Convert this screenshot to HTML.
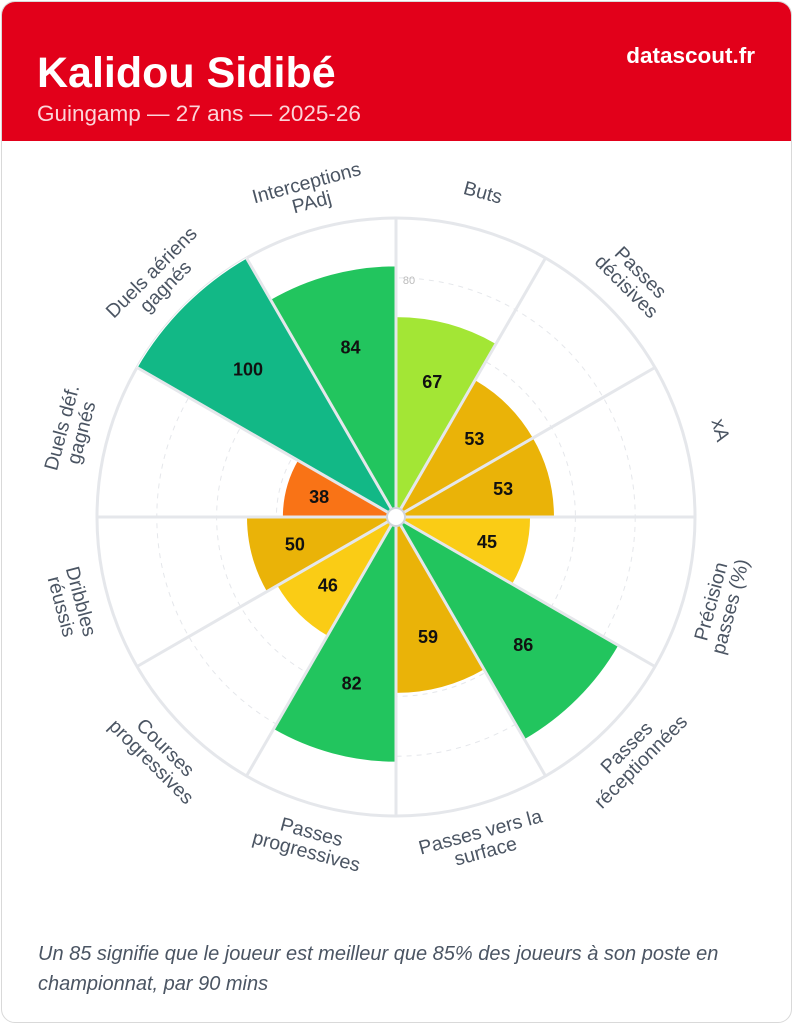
<!DOCTYPE html>
<html><head><meta charset="utf-8">
<style>
html,body{margin:0;padding:0;background:#fff;}
body{width:793px;height:1024px;position:relative;overflow:hidden;font-family:"Liberation Sans",sans-serif;}
.card{position:absolute;left:1px;top:1px;width:789px;height:1020px;border:1px solid #d9d9d9;border-radius:14px;overflow:hidden;background:#fff;}
.hdr{position:absolute;left:0;top:0;width:100%;height:139px;background:#e2001a;}
.t{position:absolute;left:35px;top:47px;color:#fff;font-weight:bold;font-size:43px;}
.s{position:absolute;left:35px;top:99px;color:#fcd5d9;font-size:22.5px;}
.b{position:absolute;right:36px;top:41px;color:#fff;font-weight:bold;font-size:22.5px;}
.f{position:absolute;left:36px;top:937px;width:730px;color:#4b5563;font-style:italic;font-size:20px;line-height:30px;}
svg{position:absolute;left:0;top:0;}
</style></head><body>
<div class="card">
<div class="hdr"><div class="t">Kalidou Sidibé</div><div class="s">Guingamp — 27 ans — 2025-26</div><div class="b">datascout.fr</div></div>
<div class="f">Un 85 signifie que le joueur est meilleur que 85% des joueurs à son poste en championnat, par 90 mins</div>
</div>
<svg id="c" width="793" height="1024" xmlns="http://www.w3.org/2000/svg"></svg>
<script>
var cx=396,cy=517,R=299;
var d=[["Buts",67,"#a3e635"],["Passes|décisives",53,"#eab308"],["xA",53,"#eab308"],["Précision|passes (%)",45,"#facc15"],["Passes|réceptionnées",86,"#22c55e"],["Passes vers la|surface",59,"#eab308"],["Passes|progressives",82,"#22c55e"],["Courses|progressives",46,"#facc15"],["Dribbles|réussis",50,"#eab308"],["Duels déf.|gagnés",38,"#f97316"],["Duels aériens|gagnés",100,"#12b886"],["Interceptions|PAdj",84,"#22c55e"]];
function P(r,a){var t=a*Math.PI/180;return [cx+r*Math.sin(t),cy-r*Math.cos(t)];}
var s='<circle cx="'+cx+'" cy="'+cy+'" r="'+R+'" fill="#fff" stroke="#e5e7eb" stroke-width="3"/>';
[20,40,60,80].forEach(function(v){s+='<circle cx="'+cx+'" cy="'+cy+'" r="'+(v*R/100)+'" fill="none" stroke="#e5e7eb" stroke-width="1" stroke-dasharray="5,5"/>';});
s+='<text x="409" y="284" font-size="11" fill="#bbb" text-anchor="middle">80</text>';
d.forEach(function(e,i){var a0=i*30,a1=a0+30,r=e[1]*R/100;var p0=P(r,a0),p1=P(r,a1);
s+='<path d="M'+cx+' '+cy+' L'+p0[0]+' '+p0[1]+' A'+r+' '+r+' 0 0 1 '+p1[0]+' '+p1[1]+' Z" fill="'+e[2]+'" stroke="#fff" stroke-width="1"/>';});
for(var i=0;i<12;i++){var p=P(R,i*30);s+='<line x1="'+cx+'" y1="'+cy+'" x2="'+p[0]+'" y2="'+p[1]+'" stroke="#e5e7eb" stroke-width="3"/>';}
d.forEach(function(e,i){var m=i*30+15,r=e[1]*R/100*0.7;var p=P(r,m);
s+='<text x="'+p[0]+'" y="'+(p[1]+6.5)+'" font-size="18" font-weight="bold" text-anchor="middle" fill="#111">'+e[1]+'</text>';
var q=P(336,m);var rot=m;if(m>90&&m<270)rot=m-180;var ls=e[0].split("|");var n=ls.length;
var g='<g transform="translate('+q[0]+' '+q[1]+') rotate('+rot+')">';
ls.forEach(function(l,k){var y=(k-(n-1)/2)*20+6.5;g+='<text x="0" y="'+y+'" font-size="19.5" fill="#4b5563" text-anchor="middle">'+l+'</text>';});
s+=g+'</g>';});
s+='<circle cx="'+cx+'" cy="'+cy+'" r="9" fill="#fff" stroke="#d1d5db" stroke-width="2"/>';
document.getElementById("c").innerHTML=s;
</script>
</body></html>
